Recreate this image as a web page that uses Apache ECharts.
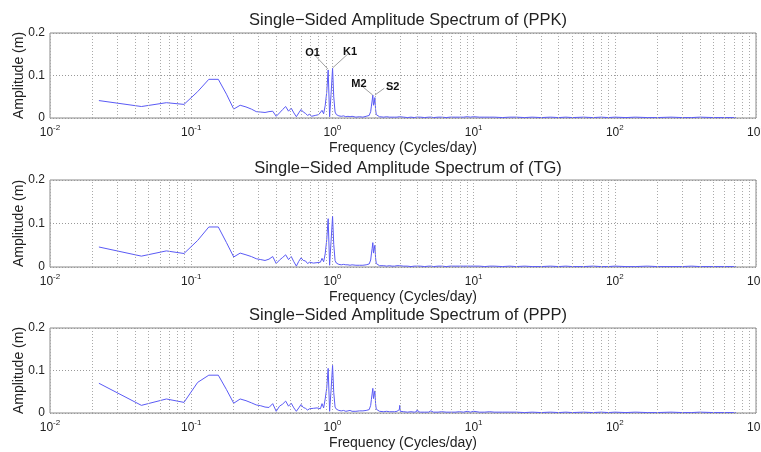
<!DOCTYPE html>
<html>
<head>
<meta charset="utf-8">
<script src="https://cdn.jsdelivr.net/npm/echarts@6/dist/echarts.min.js"></script>
<style>
  html, body { margin: 0; padding: 0; background: #fff; }
  #chart { width: 761px; height: 452px; }
</style>
</head>
<body>
<div id="chart"></div>
<script>
// Frequency bins (cycles/day) shared by the three spectra
const freq = [
  0.0222,0.0444,0.0667,0.0889,0.1111,0.1333,0.1556,0.1778,0.2000,0.2222,
  0.2444,0.2667,0.2889,0.3111,0.3333,0.3556,0.3778,0.4000,0.4222,0.4444,
  0.4667,0.4889,0.5111,0.5333,0.5556,0.5778,0.6000,0.6222,0.6444,0.6667,
  0.6889,0.7111,0.7333,0.7556,0.7778,0.8000,0.8222,0.8444,0.8667,0.8889,
  0.9111,0.9333,0.9556,0.9778,1.0027,1.0222,1.0444,1.0667,1.0889,1.1111,
  1.1556,1.2000,1.2444,1.2889,1.3333,1.3778,1.4222,1.4667,1.5111,1.5556,
  1.6000,1.6444,1.6889,1.7333,1.7778,1.8222,1.8444,1.8667,1.8889,1.9111,
  1.9333,1.9556,1.9778,2.0000,2.0222,2.0444,2.0667,2.1111,2.1556,2.2000,
  2.3111,2.4222,2.5333,2.6444,2.7556,2.8667,2.9333,2.9778,3.0000,3.0222,
  3.0667,3.2000,3.4000,3.6000,3.8000,3.9333,3.9778,4.0000,4.0444,4.2000,
  4.5000,4.8000,4.9333,4.9778,5.0222,5.2000,5.6000,5.9333,5.9778,6.0222,
  6.4000,6.8000,7.0000,7.4000,7.9333,7.9778,8.0222,8.5000,9.0000,9.5000,
  10.000,11.000,12.000,13.000,14.000,16.000,18.000,20.000,23.000,26.000,
  30.000,35.000,40.000,45.000,50.000,60.000,70.000,80.000,90.000,100.00,
  120.00,140.00,170.00,200.00,250.00,300.00,350.00,400.00,500.00,600.00,
  720.00
];

// Amplitude (m) – PPK solution
const ampPPK = [
  0.041,0.027,0.036,0.032,0.062,0.091,0.091,0.056,0.021,0.030,
  0.026,0.021,0.015,0.014,0.013,0.015,0.016,0.004,0.012,0.020,
  0.027,0.016,0.023,0.012,0.003,0.012,0.020,0.014,0.011,0.006,
  0.009,0.004,0.008,0.006,0.009,0.008,0.010,0.018,0.010,0.029,
  0.060,0.113,0.003,0.055,0.117,0.050,0.014,0.008,0.006,0.005,
  0.004,0.005,0.003,0.004,0.003,0.004,0.003,0.002,0.003,0.003,
  0.003,0.002,0.003,0.004,0.003,0.006,0.009,0.015,0.028,0.040,
  0.054,0.030,0.035,0.048,0.020,0.008,0.005,0.004,0.003,0.003,
  0.002,0.003,0.002,0.002,0.002,0.002,0.002,0.003,0.005,0.002,
  0.002,0.002,0.001,0.002,0.001,0.002,0.003,0.004,0.002,0.002,
  0.001,0.002,0.002,0.003,0.002,0.001,0.002,0.002,0.004,0.002,
  0.001,0.002,0.003,0.002,0.002,0.004,0.002,0.002,0.003,0.002,
  0.003,0.002,0.002,0.002,0.002,0.001,0.002,0.002,0.001,0.002,
  0.001,0.002,0.001,0.002,0.001,0.002,0.001,0.002,0.001,0.002,
  0.001,0.002,0.001,0.001,0.002,0.001,0.001,0.002,0.001,0.001,
  0.001
];

// Amplitude (m) – tide gauge
const ampTG = [
  0.046,0.025,0.037,0.031,0.061,0.092,0.092,0.056,0.023,0.032,
  0.028,0.024,0.019,0.017,0.015,0.018,0.024,0.008,0.016,0.022,
  0.028,0.017,0.024,0.012,0.002,0.013,0.021,0.015,0.014,0.008,
  0.011,0.007,0.009,0.007,0.010,0.009,0.011,0.020,0.012,0.030,
  0.062,0.111,0.004,0.058,0.116,0.052,0.015,0.009,0.007,0.006,
  0.005,0.006,0.005,0.005,0.004,0.005,0.004,0.004,0.004,0.004,
  0.004,0.004,0.004,0.005,0.004,0.007,0.010,0.016,0.030,0.042,
  0.056,0.032,0.036,0.050,0.021,0.008,0.005,0.004,0.003,0.003,
  0.003,0.002,0.003,0.002,0.002,0.003,0.002,0.003,0.004,0.002,
  0.002,0.002,0.002,0.001,0.002,0.002,0.002,0.004,0.002,0.002,
  0.001,0.002,0.002,0.002,0.002,0.001,0.002,0.002,0.003,0.002,
  0.001,0.002,0.002,0.002,0.002,0.003,0.002,0.002,0.002,0.002,
  0.002,0.002,0.001,0.002,0.002,0.001,0.002,0.001,0.002,0.001,
  0.001,0.002,0.001,0.002,0.001,0.001,0.002,0.001,0.001,0.002,
  0.001,0.001,0.002,0.001,0.001,0.001,0.002,0.001,0.001,0.001,
  0.001
];

// Amplitude (m) – PPP solution
const ampPPP = [
  0.070,0.018,0.033,0.025,0.072,0.089,0.089,0.055,0.023,0.033,
  0.029,0.024,0.019,0.017,0.014,0.013,0.022,0.004,0.016,0.021,
  0.028,0.016,0.023,0.012,0.004,0.012,0.020,0.013,0.011,0.007,
  0.010,0.007,0.011,0.008,0.012,0.009,0.010,0.022,0.012,0.033,
  0.058,0.105,0.004,0.052,0.112,0.048,0.014,0.009,0.007,0.006,
  0.005,0.006,0.004,0.005,0.006,0.004,0.005,0.004,0.005,0.005,
  0.004,0.005,0.004,0.006,0.005,0.008,0.012,0.018,0.032,0.045,
  0.058,0.034,0.038,0.052,0.022,0.009,0.006,0.005,0.004,0.004,
  0.003,0.004,0.003,0.003,0.003,0.004,0.005,0.008,0.018,0.004,
  0.003,0.003,0.002,0.003,0.002,0.003,0.005,0.009,0.003,0.002,
  0.002,0.002,0.003,0.005,0.002,0.002,0.002,0.003,0.006,0.002,
  0.002,0.002,0.004,0.002,0.003,0.006,0.002,0.002,0.004,0.002,
  0.004,0.002,0.002,0.003,0.002,0.002,0.002,0.002,0.001,0.002,
  0.001,0.002,0.001,0.002,0.001,0.002,0.001,0.002,0.001,0.002,
  0.001,0.002,0.001,0.001,0.002,0.001,0.001,0.002,0.001,0.001,
  0.001
];

const panelNames = ['PPK', 'TG', 'PPP'];
const panelAmps = [ampPPK, ampTG, ampPPP];

// Axis settings
const xMin = 0.01, xMax = 1000;
const minorGridFreqs = [];
for (let d = -2; d < 3; d++) {
  for (let m = 2; m <= 9; m++) minorGridFreqs.push(+(m * Math.pow(10, d)).toPrecision(3));
}

// Tidal constituent labels on the first spectrum: [name, peak freq, peak amp, label freq, label amp]
const constituents = [
  ['O1', 0.93, 0.115, 0.74, 0.150],
  ['K1', 1.005, 0.118, 1.30, 0.152],
  ['M2', 1.93, 0.054, 1.58, 0.078],
  ['S2', 2.0, 0.054, 2.33, 0.070]
];

const FONT = '"Liberation Sans", Arial, Helvetica, sans-serif';
const gridTops = [33, 180, 328];
const gridHeights = [85, 87, 85];
const titleTops = [7, 155, 302];

const grids = [], xAxes = [], yAxes = [], series = [], titles = [];

panelNames.forEach((name, i) => {
  grids.push({
    left: 50, right: 5, top: gridTops[i], height: gridHeights[i],
    outerBoundsMode: 'none', containLabel: false,
    show: true, borderColor: '#8a8a8a', borderWidth: 1, backgroundColor: '#fff'
  });
  titles.push({
    text: 'Single\u2212Sided Amplitude Spectrum of (' + name + ')',
    left: 403, top: titleTops[i], textAlign: 'center',
    textStyle: { fontFamily: FONT, fontSize: 16.5, fontWeight: 'normal', color: '#222' }
  });
  xAxes.push({
    type: 'log', logBase: 10, min: xMin, max: xMax, gridIndex: i,
    name: 'Frequency (Cycles/day)', nameLocation: 'middle', nameGap: 23,
    nameMoveOverlap: false,
    nameTextStyle: { fontFamily: FONT, fontSize: 14, color: '#222' },
    axisLine: { show: false, onZero: false },
    axisTick: { show: false },
    axisLabel: {
      margin: 6,
      formatter: v => '{b|10}{s|' + Math.round(Math.log10(v)) + '}',
      rich: {
        b: { fontFamily: FONT, fontSize: 12, color: '#222' },
        s: { fontFamily: FONT, fontSize: 8, color: '#222', padding: [0, 0, 9, 0] }
      }
    },
    splitLine: { show: true, lineStyle: { color: '#aaa', type: [1, 2], width: 1 } }
  });
  yAxes.push({
    type: 'value', min: 0, max: 0.2, interval: 0.1, gridIndex: i,
    name: 'Amplitude (m)', nameLocation: 'middle', nameGap: 24, nameRotate: 90,
    nameMoveOverlap: false,
    nameTextStyle: { fontFamily: FONT, fontSize: 14, color: '#222' },
    axisLine: { show: false, onZero: false },
    axisTick: { show: false },
    axisLabel: {
      margin: 5, fontFamily: FONT, fontSize: 12, color: '#222',
      formatter: v => (v === 0 ? '0' : v.toFixed(1))
    },
    splitLine: { show: true, lineStyle: { color: '#999', type: [1, 2], width: 1 } }
  });

  const amps = panelAmps[i];
  const markData = minorGridFreqs.map(f => ({ xAxis: f }));
  if (i === 0) {
    constituents.forEach(([lab, f0, a0, f1, a1]) => {
      markData.push([
        {
          coord: [f0, a0],
          lineStyle: { type: 'solid', color: '#a0a0a0', width: 1 },
          label: {
            show: true, position: 'end', formatter: lab, distance: 2,
            fontFamily: FONT, fontSize: 11, fontWeight: 'bold', color: '#111'
          }
        },
        { coord: [f1, a1] }
      ]);
    });
  }
  series.push({
    type: 'line', xAxisIndex: i, yAxisIndex: i,
    data: freq.map((f, k) => [f, amps[k]]),
    showSymbol: false, symbol: 'none',
    lineStyle: { color: '#5a5af5', width: 1, join: 'round' },
    animation: false, silent: true,
    markLine: {
      silent: true, animation: false, symbol: ['none', 'none'],
      label: { show: false },
      lineStyle: { color: '#aaa', type: [1, 2], width: 1 },
      data: markData
    }
  });
});

const chart = echarts.init(document.getElementById('chart'), null, { renderer: 'canvas' });
chart.setOption({
  backgroundColor: '#fff',
  animation: false,
  title: titles,
  grid: grids,
  xAxis: xAxes,
  yAxis: yAxes,
  series: series
});
</script>
</body>
</html>
